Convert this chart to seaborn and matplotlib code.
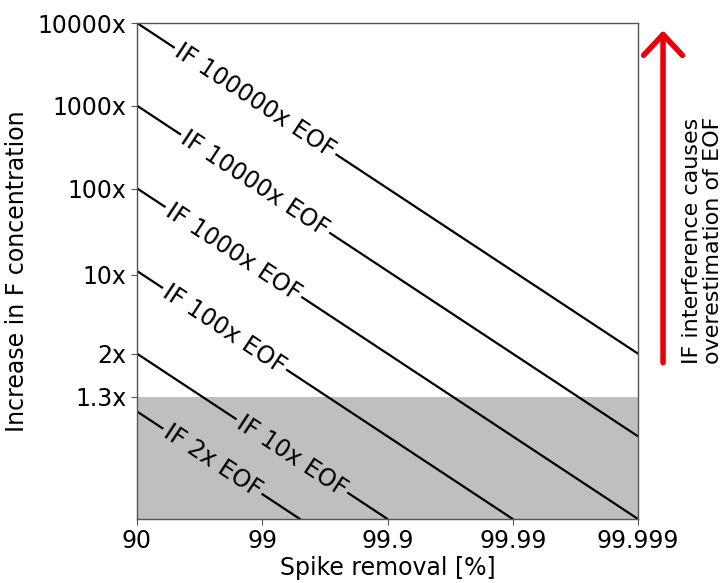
import numpy as np
import pandas as pd
import matplotlib
matplotlib.use("Agg")
import matplotlib.pyplot as plt
import seaborn as sns

# ---- data ----
removal_ticks = [90, 99, 99.9, 99.99, 99.999]
removal_tick_labels = ["90", "99", "99.9", "99.99", "99.999"]
# y axis plots (increase - 1)
increase_ticks = [9999, 999, 99, 9, 1, 0.3]
increase_tick_labels = ["10000x", "1000x", "100x", "10x", "2x", "1.3x"]

if_factors = [2, 10, 100, 1000, 10000, 100000]
if_labels = ["IF 2x EOF", "IF 10x EOF", "IF 100x EOF", "IF 1000x EOF",
             "IF 10000x EOF", "IF 100000x EOF"]
line_start_removal = [90, 90, 90, 90, 90, 90]
line_end_removal = [99.5, 99.9, 99.99, 99.999, 99.999, 99.999]
line_start_value = [0.2, 1, 10, 100, 1000, 10000]
line_end_value = [0.01, 0.01, 0.01, 0.01, 0.1, 1]
label_removal = [97.5, 99.42, 98.0, 98.3, 98.86, 98.86]
threshold_value = 0.3
y_limits = [0.01, 10000]

sns.set_style("ticks")
plt.rcParams["font.family"] = ["DejaVu Sans"]
plt.rcParams["text.color"] = "black"
plt.rcParams["axes.labelcolor"] = "black"
plt.rcParams["xtick.labelcolor"] = "black"
plt.rcParams["ytick.labelcolor"] = "black"

fig = plt.figure(figsize=(7.27, 5.83), dpi=100)
ax = fig.add_axes([137 / 727, 1 - 519 / 583, (638 - 137) / 727, (519 - 23) / 583])

rows = []
for f, r0, r1, v0, v1 in zip(if_factors, line_start_removal, line_end_removal,
                             line_start_value, line_end_value):
    rows.append(dict(IF=f, rem=100 - r0, val=v0))
    rows.append(dict(IF=f, rem=100 - r1, val=v1))
df = pd.DataFrame(rows)

band_color = "#bfbfbf"
ax.axhspan(y_limits[0], threshold_value, color=band_color, lw=0, zorder=0)

sns.lineplot(data=df, x="rem", y="val", units="IF", estimator=None,
             color="black", lw=1.6, ax=ax, legend=False, zorder=2)

ax.set_xscale("log")
ax.set_yscale("log")
ax.set_xlim(100 - removal_ticks[0], 100 - removal_ticks[-1])
ax.set_ylim(*y_limits)
ax.set_xticks([100 - r for r in removal_ticks])
ax.set_xticklabels(removal_tick_labels)
ax.set_yticks(increase_ticks)
ax.set_yticklabels(increase_tick_labels)
ax.minorticks_off()
ax.tick_params(labelsize=17, length=4, width=0.8, color="#555555",
               labelcolor="black")
for s in ax.spines.values():
    s.set_visible(True)
    s.set_color("#555555")
    s.set_linewidth(1.0)
ax.set_xlabel("Spike removal [%]", fontsize=17, labelpad=2, color="black")
ax.set_ylabel("Increase in F concentration", fontsize=17, labelpad=6,
              color="black")

# inline labels
for f, lab, lr, r0, r1, v0, v1 in zip(if_factors, if_labels, label_removal,
                                      line_start_removal, line_end_removal,
                                      line_start_value, line_end_value):
    x0, x1 = np.log10(100 - r0), np.log10(100 - r1)
    y0, y1 = np.log10(v0), np.log10(v1)
    xl = np.log10(100 - lr)
    yl = y0 + (y1 - y0) * (xl - x0) / (x1 - x0)
    p0 = ax.transData.transform((100 - r0, v0))
    p1 = ax.transData.transform((100 - r1, v1))
    ang = np.degrees(np.arctan2(p1[1] - p0[1], p1[0] - p0[0]))
    val = 10 ** yl
    fc = band_color if val < threshold_value else "white"
    ax.text(10 ** xl, val, lab, rotation=ang, rotation_mode="anchor",
            ha="center", va="center", fontsize=17, zorder=3, color="black",
            bbox=dict(boxstyle="square,pad=0.12", fc=fc, ec="none"))

# red arrow and text on the right
ax.annotate("", xy=(1.05, 0.985), xytext=(1.05, 0.315), xycoords="axes fraction",
            arrowprops=dict(arrowstyle="->,head_length=0.75,head_width=0.7",
                            color="#e8000b", lw=4, shrinkA=0, shrinkB=0,
                            mutation_scale=20), annotation_clip=False)
ax.text(1.128, 0.313, "IF interference causes\noverestimation of EOF",
        rotation=90, transform=ax.transAxes, ha="center", va="bottom",
        multialignment="left", fontsize=16, linespacing=1.05, color="black")

fig.savefig("out.png", dpi=100)
